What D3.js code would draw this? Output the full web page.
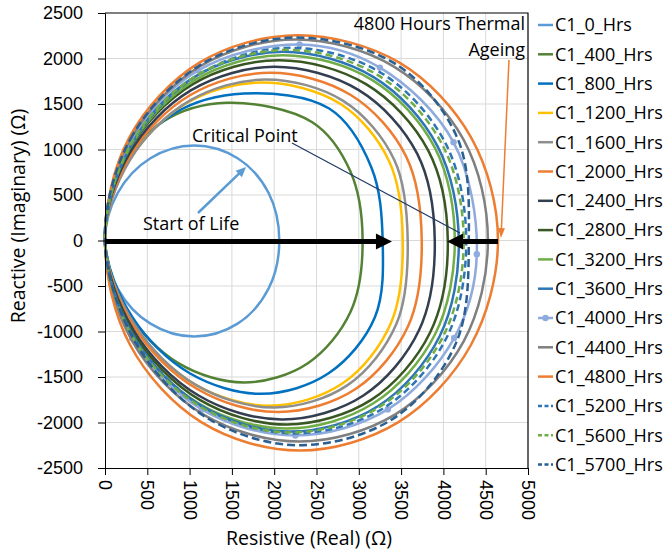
<!DOCTYPE html>
<html>
<head>
<meta charset="utf-8">
<script src="https://cdn.jsdelivr.net/npm/d3@7"></script>
<style>
  body { margin: 0; background: #fff; }
  svg { font-family: "Open Sans", "Noto Sans", "DejaVu Sans", sans-serif; }
</style>
</head>
<body>
<svg id="chart" width="668" height="557"></svg>
<script>
// series names (legend)
const seriesNames = ["C1_0_Hrs", "C1_400_Hrs", "C1_800_Hrs", "C1_1200_Hrs", "C1_1600_Hrs",
  "C1_2000_Hrs", "C1_2400_Hrs", "C1_2800_Hrs", "C1_3200_Hrs", "C1_3600_Hrs", "C1_4000_Hrs",
  "C1_4400_Hrs", "C1_4800_Hrs", "C1_5200_Hrs", "C1_5600_Hrs", "C1_5700_Hrs"];

// [resistive, reactive] points, going round each loop
const c1_0 = [[0,0],[150,522],[537,904],[1055,1044],[1567,904],[1934,522],[2060,0],[1934,-528],[1567,-914],[1055,-1055],[537,-914],[150,-528]];
const c1_400 = [[0,0],[164,757],[692,1310],[1442,1513],[2450,1300],[2900,760],[3045,0],[2904,-780],[2394,-1351],[1650,-1560],[872,-1351],[268,-780]];
const c1_800 = [[0,0],[221,808],[822,1399],[1643,1615],[2650,1450],[3150,800],[3282,0],[3190,-843],[2643,-1459],[1850,-1685],[1001,-1459],[324,-843]];
const c1_1200 = [[0,0],[278,868],[952,1503],[1843,1736],[2780,1503],[3360,868],[3520,0],[3379,-908],[2805,-1572],[1950,-1815],[1045,-1572],[331,-908]];
const c1_1600 = [[0,0],[296,885],[991,1532],[1900,1769],[2820,1532],[3420,885],[3578,0],[3444,-918],[2867,-1589],[2000,-1835],[1078,-1589],[346,-918]];
const c1_2000 = [[0,0],[290,922],[1004,1596],[1950,1843],[2910,1596],[3560,922],[3744,0],[3582,-943],[2962,-1632],[2050,-1885],[1090,-1632],[340,-943]];
const c1_2400 = [[0,0],[287,954],[1019,1652],[2000,1908],[3000,1652],[3690,954],[3898,0],[3713,-984],[3055,-1703],[2100,-1967],[1106,-1703],[337,-984]];
const c1_2800 = [[0,0],[283,990],[1034,1716],[2050,1981],[3090,1716],[3820,990],[4052,0],[3843,-1011],[3146,-1751],[2150,-2022],[1120,-1751],[333,-1011]];
const c1_3200 = [[0,0],[293,1018],[1062,1763],[2100,2036],[3160,1763],[3900,1018],[4135,0],[3900,-1033],[3173,-1789],[2150,-2066],[1105,-1789],[318,-1033]];
const c1_3600 = [[0,0],[285,1037],[1054,1795],[2100,2073],[3175,1795],[3930,1037],[4182,0],[3957,-1050],[3231,-1818],[2200,-2099],[1140,-1818],[335,-1050]];
const c1_4000 = [[0,0],[296,1079],[1101,1868],[2300,2155],[3250,1900],[4120,1079],[4395,-150],[4127,-1072],[3342,-1856],[2250,-2143],[1144,-1856],[321,-1072]];
const c1_4400 = [[0,0],[297,1105],[1121,1914],[2250,2210],[3410,1914],[4240,1105],[4526,0],[4241,-1105],[3427,-1913],[2300,-2209],[1164,-1913],[321,-1105]];
const c1_4800 = [[0,0],[285,1128],[1116,1954],[2270,2256],[3480,1954],[4330,1128],[4645,0],[4322,-1154],[3464,-1999],[2300,-2308],[1142,-1999],[300,-1154]];
const c1_5200 = [[0,0],[318,1059],[1124,1833],[2200,2117],[3280,1833],[4030,1059],[4270,0],[4042,-1060],[3303,-1836],[2250,-2120],[1168,-1836],[344,-1060]];
const c1_5600 = [[0,0],[299,1048],[1086,1814],[2150,2095],[3230,1814],[3990,1048],[4240,0],[3996,-1055],[3249,-1827],[2200,-2110],[1129,-1827],[324,-1055]];
const c1_5700 = [[0,0],[300,1115],[1130,1931],[2250,2230],[3450,1931],[4170,1115],[4300,0],[4150,-1125],[3420,-1949],[2300,-2250],[1205,-1949],[363,-1125]];

const seriesData = [c1_0, c1_400, c1_800, c1_1200, c1_1600, c1_2000, c1_2400, c1_2800,
  c1_3200, c1_3600, c1_4000, c1_4400, c1_4800, c1_5200, c1_5600, c1_5700];

const xTicks = [0, 500, 1000, 1500, 2000, 2500, 3000, 3500, 4000, 4500, 5000];
const yTicks = [-2500, -2000, -1500, -1000, -500, 0, 500, 1000, 1500, 2000, 2500];

// styles
const colors = ["#5B9BD5", "#548235", "#0070C0", "#FFC000", "#8E8E8E", "#ED7D31", "#333F50",
  "#385723", "#70AD47", "#2E75B6", "#8FAADC", "#7F7F7F", "#ED7D31", "#2E75B6", "#70AD47", "#2A5F92"];
const dashes = [null, null, null, null, null, null, null, null, null, null, null, null, null, "7,4", "7,4", "8,4"];

const svg = d3.select("#chart");
const x = d3.scaleLinear().domain([0, 5000]).range([105, 528]);
const y = d3.scaleLinear().domain([-2500, 2500]).range([468, 13]);

// gridlines
const grid = svg.append("g").attr("stroke", "#D9D9D9").attr("stroke-width", 1);
grid.selectAll(".gx").data(xTicks.slice(1, -1)).join("line")
  .attr("x1", (d) => x(d)).attr("x2", (d) => x(d)).attr("y1", y(2500)).attr("y2", y(-2500));
grid.selectAll(".gy").data(yTicks.slice(1, -1)).join("line")
  .attr("x1", x(0)).attr("x2", x(5000)).attr("y1", (d) => y(d)).attr("y2", (d) => y(d));

// curves
const line = d3.line().x((d) => x(d[0])).y((d) => y(d[1])).curve(d3.curveCatmullRomClosed.alpha(0.5));
const curves = svg.append("g").attr("fill", "none");
seriesData.forEach((pts, i) => {
  curves.append("path")
    .attr("d", line(pts))
    .attr("stroke", colors[i])
    .attr("stroke-width", 2.5)
    .attr("stroke-dasharray", dashes[i]);
  if (seriesNames[i] === "C1_4000_Hrs") {
    curves.selectAll(".mk").data(pts.slice(1)).join("circle")
      .attr("cx", (d) => x(d[0])).attr("cy", (d) => y(d[1])).attr("r", 3.2)
      .attr("fill", colors[i]);
  }
});

// axes (plain hyphen for negatives, like the original)
const fmt = (d) => String(d);
const xAxis = svg.append("g").attr("transform", `translate(0,${y(-2500)})`)
  .call(d3.axisBottom(x).tickValues(xTicks).tickSize(7).tickFormat(fmt));
xAxis.selectAll("text")
  .attr("transform", "rotate(90)")
  .attr("x", 12).attr("y", 0).attr("dy", "0.35em")
  .style("text-anchor", "start").style("font-size", "18px")
  .attr("fill", "#000").attr("font-family", null);

const yAxis = svg.append("g").attr("transform", `translate(${x(0)},0)`)
  .call(d3.axisLeft(y).tickValues(yTicks).tickSize(7).tickFormat(fmt));
yAxis.selectAll("text").style("font-size", "18px").attr("x", -22).attr("fill", "#000").attr("font-family", null);
svg.selectAll(".tick line").attr("stroke", "#000");
svg.selectAll(".domain").attr("stroke", "#000");

// frame top/right
svg.append("path")
  .attr("d", `M${x(0)},${y(2500)}H${x(5000)}V${y(-2500)}`)
  .attr("fill", "none").attr("stroke", "#000").attr("stroke-width", 1.2);

// axis titles
svg.append("text").attr("x", 309).attr("y", 545).attr("text-anchor", "middle")
  .style("font-size", "19.5px").text("Resistive (Real) (Ω)");
svg.append("text").attr("transform", "translate(25,216) rotate(-90)").attr("text-anchor", "middle")
  .style("font-size", "19.5px").text("Reactive (Imaginary) (Ω)");

// annotations
function arrow(x1, y1, x2, y2, color, w, hl, hw) {
  const dx = x2 - x1, dy = y2 - y1, len = Math.hypot(dx, dy);
  const ux = dx / len, uy = dy / len;
  const bx = x2 - ux * hl, by = y2 - uy * hl;
  svg.append("line").attr("x1", x1).attr("y1", y1).attr("x2", bx + ux).attr("y2", by + uy)
    .attr("stroke", color).attr("stroke-width", w);
  svg.append("path")
    .attr("d", `M${x2},${y2}L${bx - uy * hw / 2},${by + ux * hw / 2}L${bx + uy * hw / 2},${by - ux * hw / 2}Z`)
    .attr("fill", color);
}

arrow(x(0), y(0) + 1, x(3392), y(0) + 1, "#000", 5, 16, 16);
arrow(x(4645), y(0) + 1, x(4043), y(0) + 1, "#000", 5, 16, 16);
arrow(x(1099), y(302), x(1667), y(808), "#5B9BD5", 2.5, 10, 9);
arrow(x(4775), y(1984), x(4681), y(27), "#ED7D31", 1.5, 10, 7);
svg.append("line").attr("x1", x(2210)).attr("y1", y(1071)).attr("x2", x(4196)).attr("y2", y(82))
  .attr("stroke", "#203864").attr("stroke-width", 1.2);

svg.append("text").attr("x", x(1028)).attr("y", y(1082)).style("font-size", "18px").text("Critical Point");
svg.append("text").attr("x", x(449)).attr("y", y(115)).style("font-size", "18px").text("Start of Life");
svg.append("text").attr("x", x(4965)).attr("y", y(2313)).attr("text-anchor", "end")
  .style("font-size", "18px").text("4800 Hours Thermal");
svg.append("text").attr("x", x(4965)).attr("y", y(2027)).attr("text-anchor", "end")
  .style("font-size", "18px").text("Ageing");

// legend
const legend = svg.append("g").attr("transform", "translate(538,25)");
const item = legend.selectAll("g").data(seriesNames).join("g")
  .attr("transform", (d, i) => `translate(0,${i * 29.3})`);
item.append("line").attr("x1", 0).attr("x2", 15).attr("y1", 0).attr("y2", 0)
  .attr("stroke", (d, i) => colors[i]).attr("stroke-width", 2.5)
  .attr("stroke-dasharray", (d, i) => (dashes[i] ? "4,2.5" : null));
item.filter((d) => d === "C1_4000_Hrs").append("circle").attr("cx", 7.5).attr("r", 3.2)
  .attr("fill", colors[10]);
item.append("text").attr("x", 17).attr("dy", "0.35em").style("font-size", "18px").text((d) => d);
</script>
</body>
</html>
